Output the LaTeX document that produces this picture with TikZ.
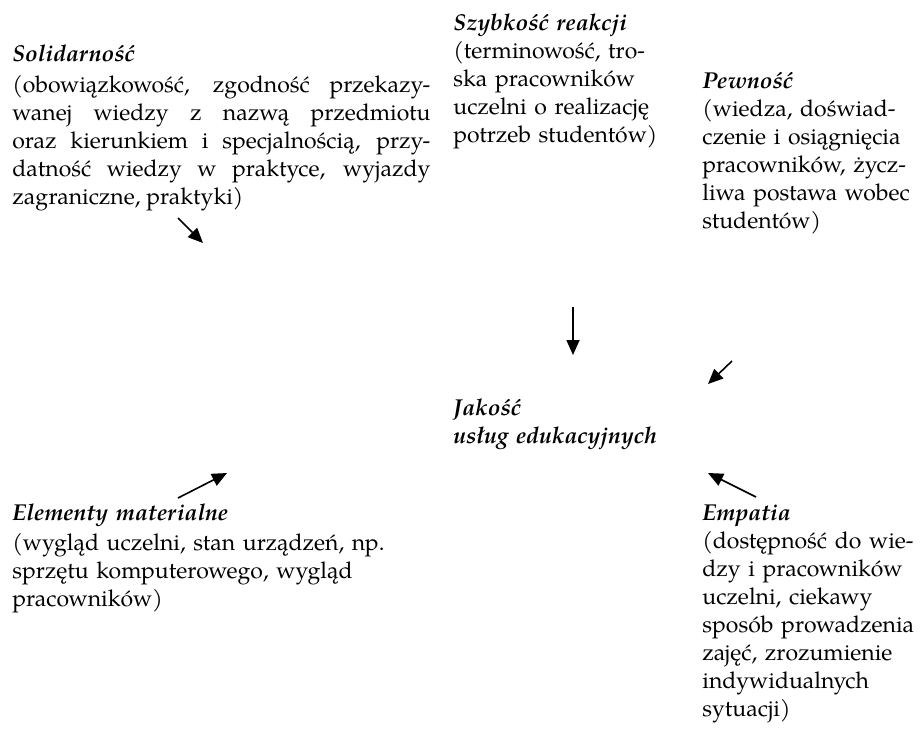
\documentclass[tikz,border=0pt]{standalone}
\usepackage{fontspec}
\setmainfont{TeX Gyre Pagella}
\usetikzlibrary{arrows.meta}
\newcommand{\headtxt}[1]{\textbf{\textit{#1}}}
\tolerance=9999
\hyphenpenalty=10000
\exhyphenpenalty=10000
\tikzset{
  txt/.style={inner sep=0pt, anchor=north west, align=left,
    font=\fontsize{11.5}{14}\selectfont},
  arr/.style={line width=0.8pt, -{Triangle[length=7.5pt,width=6.5pt]}}
}
\begin{document}
\begin{tikzpicture}[x=0.5pt,y=-0.5pt]
\useasboundingbox (0,0) rectangle (920,736);
\fill[white] (0,0) rectangle (920,736);

\node[txt, text width=209pt, align=justify] (sol) at (12,41.4) {\strut\headtxt{Solidarność}\\[1.5pt]
(obowiązkowość, zgodność przekazy-\linebreak
wanej wiedzy z nazwą przedmiotu\linebreak
oraz kierunkiem i specjalnością, przy-\linebreak
datność wiedzy w praktyce, wyjazdy\linebreak
zagraniczne, praktyki)};

\node[txt, text width=120pt] (szy) at (453,10.4) {\strut\headtxt{Szybkość reakcji}\\
(terminowość, tro-\\
ska pracowników\\
uczelni o realizację\\
potrzeb studentów)};

\node[txt, text width=120pt] (pew) at (702,68.4) {\strut\headtxt{Pewność}\\
(wiedza, doświad-\\
czenie i osiągnięcia\\
pracowników, życz-\\
liwa postawa wobec\\
studentów)};

\node[txt, text width=120pt] (jak) at (453,395.4) {\strut\headtxt{Jakość}\\
\headtxt{usług edukacyjnych}};

\node[txt, text width=220pt] (ele) at (12,500.4) {\strut\headtxt{Elementy materialne}\\[1pt]
(wygląd uczelni, stan urządzeń, np.\\
sprzętu komputerowego, wygląd\\
pracowników)};

\node[txt, text width=120pt] (emp) at (702,500.4) {\strut\headtxt{Empatia}\\
(dostępność do wie-\\
dzy i pracowników\\
uczelni, ciekawy\\
sposób prowadzenia\\
zajęć, zrozumienie\\
indywidualnych\\
sytuacji)};

\coordinate (a1s) at (178,218);
\coordinate (a1e) at (203,243);
\coordinate (a2s) at (573,307);
\coordinate (a2e) at (573,355);
\coordinate (a3s) at (732,361);
\coordinate (a3e) at (708,384);
\coordinate (a4s) at (178,498);
\coordinate (a4e) at (227,473);
\coordinate (a5s) at (756,497);
\coordinate (a5e) at (708,473);

\draw[arr] (a1s) -- (a1e);
\draw[arr] (a2s) -- (a2e);
\draw[arr] (a3s) -- (a3e);
\draw[arr] (a4s) -- (a4e);
\draw[arr] (a5s) -- (a5e);
\end{tikzpicture}
\end{document}
